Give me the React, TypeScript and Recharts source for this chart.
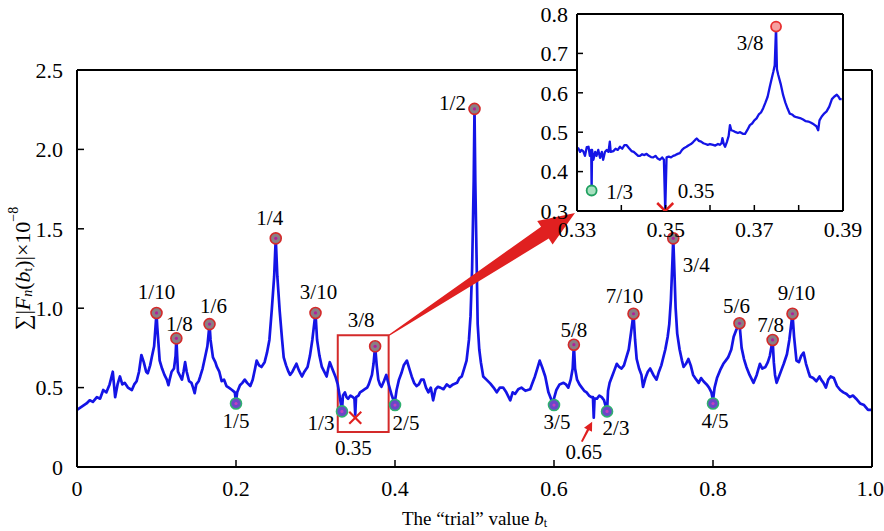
import React from "react";
import {
  ComposedChart,
  Line,
  Scatter,
  XAxis,
  YAxis,
  ReferenceArea,
  ReferenceLine,
  Label,
  CartesianGrid,
} from "recharts";

const FONT = '"Liberation Serif", "Times New Roman", serif';
const BLUE = "#1414e6";
const RED = "#e02020";

// ---------- main curve ----------
const mainX = [
  0.0, 0.006, 0.012, 0.016, 0.02, 0.025, 0.029, 0.033, 0.037, 0.041, 0.045, 0.048, 0.051, 0.054, 0.057, 0.06,
  0.064, 0.069, 0.072, 0.075, 0.078, 0.081, 0.084, 0.087, 0.089, 0.092, 0.094, 0.097, 0.099, 0.1, 0.101, 0.104,
  0.107, 0.11, 0.113, 0.115, 0.117, 0.119, 0.122, 0.124, 0.125, 0.126, 0.127, 0.13, 0.132, 0.134, 0.136, 0.138,
  0.141, 0.144, 0.146, 0.148, 0.15, 0.153, 0.155, 0.158, 0.161, 0.164, 0.1667, 0.168, 0.171, 0.174, 0.176, 0.179,
  0.182, 0.185, 0.188, 0.191, 0.195, 0.1985, 0.2, 0.2015, 0.205, 0.208, 0.211, 0.214, 0.218, 0.221, 0.224, 0.226,
  0.229, 0.232, 0.236, 0.239, 0.242, 0.245, 0.248, 0.25, 0.252, 0.255, 0.258, 0.26, 0.263, 0.266, 0.268, 0.271,
  0.274, 0.276, 0.279, 0.281, 0.283, 0.286, 0.29, 0.293, 0.296, 0.3, 0.302, 0.305, 0.308, 0.311, 0.314, 0.316,
  0.318, 0.321, 0.325, 0.328, 0.33, 0.3333, 0.3345, 0.337, 0.339, 0.341, 0.344, 0.347, 0.349, 0.35, 0.351, 0.354,
  0.356, 0.359, 0.362, 0.365, 0.367, 0.369, 0.371, 0.373, 0.375, 0.377, 0.379, 0.381, 0.383, 0.386, 0.389, 0.391,
  0.394, 0.396, 0.3995, 0.402, 0.405, 0.408, 0.411, 0.415, 0.418, 0.421, 0.424, 0.427, 0.43, 0.433, 0.436, 0.439,
  0.442, 0.445, 0.448, 0.451, 0.454, 0.457, 0.461, 0.465, 0.469, 0.473, 0.478, 0.481, 0.484, 0.487, 0.49, 0.493,
  0.495, 0.497, 0.499, 0.5, 0.501, 0.503, 0.504, 0.506, 0.508, 0.511, 0.515, 0.52, 0.524, 0.528, 0.532, 0.536,
  0.54, 0.545, 0.548, 0.551, 0.555, 0.559, 0.564, 0.57, 0.573, 0.576, 0.579, 0.582, 0.585, 0.589, 0.593, 0.5985,
  0.601, 0.603, 0.607, 0.612, 0.615, 0.618, 0.621, 0.6235, 0.625, 0.6265, 0.629, 0.632, 0.635, 0.638, 0.641, 0.644,
  0.647, 0.649, 0.65, 0.651, 0.654, 0.657, 0.66, 0.663, 0.6667, 0.668, 0.67, 0.673, 0.676, 0.679, 0.682, 0.685,
  0.688, 0.691, 0.694, 0.697, 0.7, 0.702, 0.704, 0.707, 0.71, 0.712, 0.715, 0.718, 0.721, 0.725, 0.729, 0.732,
  0.735, 0.737, 0.74, 0.743, 0.745, 0.747, 0.749, 0.75, 0.751, 0.753, 0.755, 0.758, 0.761, 0.763, 0.766, 0.769,
  0.772, 0.775, 0.779, 0.782, 0.785, 0.788, 0.792, 0.795, 0.798, 0.8, 0.802, 0.805, 0.809, 0.813, 0.816, 0.819,
  0.823, 0.826, 0.829, 0.8333, 0.836, 0.839, 0.842, 0.846, 0.851, 0.855, 0.859, 0.862, 0.866, 0.869, 0.8715, 0.875,
  0.8765, 0.878, 0.88, 0.883, 0.886, 0.889, 0.893, 0.896, 0.9, 0.902, 0.905, 0.908, 0.911, 0.914, 0.917, 0.92,
  0.922, 0.926, 0.93, 0.934, 0.936, 0.939, 0.942, 0.945, 0.948, 0.952, 0.956, 0.96, 0.964, 0.968, 0.972, 0.976,
  0.98, 0.985, 0.99, 0.995, 1.0,
];
const mainY = [
  0.36, 0.38, 0.4, 0.42, 0.41, 0.44, 0.43, 0.485, 0.47, 0.52, 0.6, 0.44, 0.52, 0.57, 0.52, 0.53,
  0.5, 0.485, 0.52, 0.54, 0.6, 0.705, 0.66, 0.6, 0.59, 0.64, 0.69, 0.76, 0.9, 0.97, 0.88, 0.67,
  0.62, 0.58, 0.55, 0.515, 0.56, 0.6, 0.62, 0.7, 0.81, 0.7, 0.6, 0.57, 0.55, 0.6, 0.66, 0.6,
  0.54, 0.53, 0.5, 0.465, 0.52, 0.54, 0.57, 0.62, 0.69, 0.76, 0.9, 0.8, 0.69, 0.66, 0.63, 0.6,
  0.54, 0.55, 0.51, 0.5, 0.485, 0.47, 0.41, 0.47, 0.515, 0.53, 0.55, 0.53, 0.51, 0.55, 0.62, 0.67,
  0.64, 0.63, 0.66, 0.72, 0.8, 0.99, 1.2, 1.44, 1.2, 0.98, 0.8, 0.69, 0.64, 0.6, 0.58, 0.6,
  0.63, 0.65, 0.61, 0.59, 0.57, 0.6, 0.63, 0.7, 0.8, 0.97, 0.8, 0.7, 0.63, 0.6, 0.57, 0.62,
  0.66, 0.62, 0.57, 0.52, 0.46, 0.35, 0.45, 0.47, 0.44, 0.43, 0.45, 0.44, 0.43, 0.33, 0.44, 0.45,
  0.47, 0.48, 0.49, 0.5, 0.52, 0.55, 0.58, 0.65, 0.76, 0.64, 0.55, 0.52, 0.505, 0.54, 0.58, 0.54,
  0.485, 0.45, 0.4, 0.485, 0.55, 0.59, 0.64, 0.67, 0.62, 0.57, 0.53, 0.51, 0.52, 0.55, 0.55, 0.5,
  0.47, 0.5, 0.42, 0.49, 0.505, 0.5, 0.49, 0.52, 0.505, 0.52, 0.53, 0.56, 0.57, 0.62, 0.67, 0.8,
  0.95, 1.25, 1.8, 2.255, 1.8, 1.2, 0.9, 0.74, 0.66, 0.57, 0.55, 0.525, 0.5, 0.47, 0.5, 0.5,
  0.47, 0.42, 0.47, 0.46, 0.49, 0.5, 0.48, 0.49, 0.53, 0.57, 0.62, 0.67, 0.63, 0.57, 0.47, 0.4,
  0.45, 0.485, 0.52, 0.53, 0.52, 0.5, 0.55, 0.62, 0.77, 0.62, 0.55, 0.52, 0.5, 0.48, 0.47, 0.45,
  0.44, 0.44, 0.31, 0.43, 0.43, 0.45, 0.44, 0.42, 0.35, 0.48, 0.53, 0.57, 0.61, 0.65, 0.63, 0.62,
  0.64, 0.69, 0.74, 0.85, 0.965, 0.8, 0.68, 0.62, 0.58, 0.505, 0.56, 0.6, 0.62, 0.58, 0.55, 0.6,
  0.64, 0.68, 0.74, 0.82, 0.9, 1.05, 1.3, 1.44, 1.3, 1.0, 0.84, 0.74, 0.67, 0.63, 0.65, 0.68,
  0.64, 0.58, 0.55, 0.53, 0.56, 0.54, 0.52, 0.5, 0.47, 0.42, 0.5, 0.56, 0.61, 0.65, 0.67, 0.69,
  0.74, 0.82, 0.86, 0.905, 0.75, 0.68, 0.63, 0.58, 0.53, 0.58, 0.65, 0.62, 0.63, 0.66, 0.7, 0.8,
  0.66, 0.58, 0.53, 0.57, 0.61, 0.65, 0.71, 0.8, 0.965, 0.82, 0.67, 0.66, 0.7, 0.72, 0.65, 0.6,
  0.57, 0.56, 0.54, 0.57, 0.55, 0.53, 0.5, 0.55, 0.57, 0.56, 0.51, 0.485, 0.47, 0.46, 0.44, 0.45,
  0.43, 0.4, 0.39, 0.36, 0.36,
];

// ---------- marked points ----------
const peakNames = ["1/10", "1/8", "1/6", "1/4", "3/10", "3/8", "1/2", "5/8", "7/10", "3/4", "5/6", "7/8", "9/10"];
const peakX = [0.1, 0.125, 0.1667, 0.25, 0.3, 0.375, 0.5, 0.625, 0.7, 0.75, 0.8333, 0.875, 0.9];
const peakY = [0.97, 0.81, 0.9, 1.44, 0.97, 0.76, 2.255, 0.77, 0.965, 1.44, 0.905, 0.8, 0.965];

const dipNames = ["1/5", "1/3", "2/5", "3/5", "2/3", "4/5"];
const dipX = [0.2, 0.3333, 0.4, 0.6, 0.6667, 0.8];
const dipY = [0.4, 0.35, 0.39, 0.39, 0.35, 0.4];

const crossNames = ["0.35"];
const crossX = [0.35];
const crossY = [0.31];

const arrowNote = "0.65";
const arrowNoteX = 0.65;
const arrowNoteY = 0.31;

// zoom box (data coords) and arrow ends
const zoomBoxX = [0.328, 0.392];
const zoomBoxY = [0.22, 0.83];
const bigArrow = [{ x: 0.3925, y: 0.83 }, { x: 0.6264, y: 1.6 }];
const smallArrow = [{ x: 0.635, y: 0.16 }, { x: 0.648, y: 0.285 }];

const mainXTicks = [0, 0.2, 0.4, 0.6, 0.8, 1.0];
const mainYTicks = [0, 0.5, 1.0, 1.5, 2.0, 2.5];

// ---------- inset curve ----------
const insetX = [
  0.33, 0.3303, 0.3307, 0.331, 0.3314, 0.3318, 0.3322, 0.3326, 0.3329, 0.3332, 0.3333, 0.3334, 0.3337, 0.3341,
  0.3344, 0.3348, 0.3352, 0.3356, 0.3359, 0.3363, 0.3367, 0.3371, 0.3374, 0.3376, 0.3382, 0.3387, 0.3392, 0.3397,
  0.3402, 0.3407, 0.3412, 0.3417, 0.3423, 0.3428, 0.3433, 0.3438, 0.3442, 0.3447, 0.3452, 0.3457, 0.3462, 0.3467,
  0.3472, 0.3477, 0.3482, 0.3487, 0.3492, 0.3496, 0.3499, 0.3502, 0.3507, 0.3512, 0.3517, 0.3522, 0.3527, 0.3532,
  0.3537, 0.3542, 0.3547, 0.3552, 0.3557, 0.3562, 0.3567, 0.357, 0.3575, 0.358, 0.3585, 0.359, 0.3595, 0.36,
  0.3607, 0.3612, 0.3618, 0.3622, 0.3626, 0.3628, 0.3631, 0.3634, 0.3638, 0.3642, 0.3645, 0.3648, 0.3653, 0.3658,
  0.3663, 0.3668, 0.3674, 0.3679, 0.3684, 0.369, 0.3695, 0.37, 0.3705, 0.371, 0.3715, 0.372, 0.3725, 0.373,
  0.3735, 0.374, 0.3743, 0.3746, 0.3749, 0.3751, 0.3754, 0.376, 0.3765, 0.377, 0.3775, 0.378, 0.3785, 0.379,
  0.3795, 0.3803, 0.381, 0.3816, 0.3822, 0.3828, 0.3834, 0.384, 0.3844, 0.3847, 0.3852, 0.3858, 0.3863, 0.3869,
  0.3875, 0.388, 0.3886, 0.389, 0.3893, 0.3897,
];
const insetY = [
  0.46, 0.459, 0.45, 0.455, 0.452, 0.44, 0.462, 0.463, 0.44, 0.455, 0.352, 0.455, 0.43, 0.45,
  0.44, 0.455, 0.435, 0.45, 0.43, 0.45, 0.455, 0.45, 0.476, 0.45, 0.452, 0.458, 0.455, 0.463,
  0.458, 0.467, 0.467, 0.46, 0.452, 0.45, 0.445, 0.44, 0.44, 0.444, 0.442, 0.445, 0.44, 0.437,
  0.436, 0.44, 0.433, 0.43, 0.436, 0.43, 0.3, 0.436, 0.438, 0.436, 0.44, 0.442, 0.445, 0.447,
  0.455, 0.46, 0.463, 0.467, 0.47, 0.475, 0.481, 0.484, 0.478, 0.476, 0.472, 0.47, 0.468, 0.47,
  0.468, 0.466, 0.47, 0.468, 0.472, 0.485, 0.47, 0.463, 0.475, 0.49, 0.518, 0.505, 0.503, 0.5,
  0.498, 0.5, 0.496, 0.496, 0.505, 0.518, 0.522, 0.53, 0.535, 0.545, 0.55, 0.561, 0.575, 0.59,
  0.616, 0.64, 0.654, 0.67, 0.768, 0.66, 0.645, 0.62, 0.594, 0.575, 0.56, 0.547, 0.545, 0.54,
  0.538, 0.536, 0.532, 0.528, 0.527, 0.524, 0.52, 0.515, 0.505, 0.53, 0.54, 0.548, 0.553, 0.565,
  0.584, 0.59, 0.595, 0.59, 0.584, 0.584,
];
const insetPeakName = "3/8";
const insetPeakX = 0.3749;
const insetPeakY = 0.768;
const insetDipName = "1/3";
const insetDipX = 0.3333;
const insetDipY = 0.352;
const insetCrossName = "0.35";
const insetCrossX = 0.3499;
const insetCrossY = 0.3;

const insetXTicks = [0.33, 0.34, 0.35, 0.36, 0.37, 0.38, 0.39];
const insetXLabels = ["0.33", "", "0.35", "", "0.37", "", "0.39"];
const insetYTicks = [0.3, 0.4, 0.5, 0.6, 0.7, 0.8];

// ---------- styling: label offsets (px) relative to marker ----------
const labelOffset: Record<string, [number, number]> = {
  "1/10": [0, -21],
  "1/8": [3, -14],
  "1/6": [4, -18],
  "1/4": [-6, -20],
  "3/10": [3, -21],
  "3/8": [-14, -26],
  "1/2": [-22, -6],
  "5/8": [0, -15],
  "7/10": [-9, -18],
  "3/4": [23, 27],
  "5/6": [-3, -17],
  "7/8": [-2, -15],
  "9/10": [4, -21],
  "1/5": [0, 18],
  "1/3": [-21, 12],
  "2/5": [11, 18],
  "3/5": [3, 17],
  "2/3": [9, 17],
  "4/5": [2, 18],
  "0.35": [-2, 30],
  "0.65": [-10, 34],
};
const insetLabelOffset: Record<string, [number, number]> = {
  "3/8": [-26, 16],
  "1/3": [28, 1],
  "0.35": [31, -20],
};

const mainLineData = mainX.map((x, i) => ({ x, y: mainY[i] }));
const peakData = peakNames.map((name, i) => ({ name, x: peakX[i], y: peakY[i] }));
const dipData = dipNames.map((name, i) => ({ name, x: dipX[i], y: dipY[i] }));
const crossData = crossNames.map((name, i) => ({ name, x: crossX[i], y: crossY[i] }));
const noteData = [{ name: arrowNote, x: arrowNoteX, y: arrowNoteY }];
const insetLineData = insetX.map((x, i) => ({ x, y: insetY[i] }));

const LBL_SIZE = 21;

const Txt = ({ x, y, children }: any) => (
  <text x={x} y={y} textAnchor="middle" dominantBaseline="central" fontFamily={FONT} fontSize={LBL_SIZE} fill="#000">
    {children}
  </text>
);

const PeakDot = (props: any) => {
  const { cx, cy, payload } = props;
  const [dx, dy] = labelOffset[payload.name] || [0, -20];
  return (
    <g>
      <circle cx={cx} cy={cy} r={5.5} fill="#8a7e84" stroke="#d42a2a" strokeWidth={1.6} />
      <circle cx={cx} cy={cy} r={1.6} fill="#b0209a" />
      <Txt x={cx + dx} y={cy + dy}>{payload.name}</Txt>
    </g>
  );
};

const DipDot = (props: any) => {
  const { cx, cy, payload } = props;
  const [dx, dy] = labelOffset[payload.name] || [0, 18];
  return (
    <g>
      <circle cx={cx} cy={cy} r={5.5} fill="#6a48c8" stroke="#2fb070" strokeWidth={1.6} />
      <circle cx={cx} cy={cy} r={1.6} fill="#c040c0" />
      <Txt x={cx + dx} y={cy + dy}>{payload.name}</Txt>
    </g>
  );
};

const CrossDot = (props: any) => {
  const { cx, cy, payload } = props;
  const [dx, dy] = labelOffset[payload.name] || [0, 20];
  const s = 6;
  return (
    <g>
      <line x1={cx - s} y1={cy - s} x2={cx + s} y2={cy + s} stroke={RED} strokeWidth={2.2} />
      <line x1={cx - s} y1={cy + s} x2={cx + s} y2={cy - s} stroke={RED} strokeWidth={2.2} />
      <Txt x={cx + dx} y={cy + dy}>{payload.name}</Txt>
    </g>
  );
};

const NoteDot = (props: any) => {
  const { cx, cy, payload } = props;
  const [dx, dy] = labelOffset[payload.name] || [0, 20];
  return <Txt x={cx + dx} y={cy + dy}>{payload.name}</Txt>;
};

const arrowPolygon = (x1: number, y1: number, x2: number, y2: number, tailW: number, shaftW: number, headW: number, headL: number) => {
  const dx = x2 - x1;
  const dy = y2 - y1;
  const L = Math.sqrt(dx * dx + dy * dy) || 1;
  const ux = dx / L;
  const uy = dy / L;
  const nx = -uy;
  const ny = ux;
  const bx = x2 - ux * headL;
  const by = y2 - uy * headL;
  const pts = [
    [x1 + nx * tailW, y1 + ny * tailW],
    [bx + nx * shaftW, by + ny * shaftW],
    [bx + nx * headW, by + ny * headW],
    [x2, y2],
    [bx - nx * headW, by - ny * headW],
    [bx - nx * shaftW, by - ny * shaftW],
    [x1 - nx * tailW, y1 - ny * tailW],
  ];
  return pts.map((p) => p.join(",")).join(" ");
};

const BigArrow = (props: any) => {
  const { x1, y1, x2, y2 } = props;
  if ([x1, y1, x2, y2].some((v) => typeof v !== "number" || isNaN(v))) return null;
  return <polygon points={arrowPolygon(x1, y1, x2, y2, 0.6, 7, 14, 36)} fill={RED} />;
};

const SmallArrow = (props: any) => {
  const { x1, y1, x2, y2 } = props;
  if ([x1, y1, x2, y2].some((v) => typeof v !== "number" || isNaN(v))) return null;
  return <polygon points={arrowPolygon(x1, y1, x2, y2, 1, 1.2, 4.5, 9)} fill={RED} />;
};

const InsetMarker = (kind: "peak" | "dip" | "cross") => (props: any) => {
  const { cx, cy, payload } = props;
  const [dx, dy] = insetLabelOffset[payload.name] || [0, 0];
  let mark;
  if (kind === "peak") mark = <circle cx={cx} cy={cy} r={5} fill="#f5a0a0" stroke="#e83030" strokeWidth={1.8} />;
  else if (kind === "dip") mark = <circle cx={cx} cy={cy} r={5} fill="#a8e0c0" stroke="#20a060" strokeWidth={1.8} />;
  else
    mark = (
      <g>
        <line x1={cx - 8} y1={cy - 8} x2={cx + 8} y2={cy + 8} stroke={RED} strokeWidth={2.5} />
        <line x1={cx - 8} y1={cy + 8} x2={cx + 8} y2={cy - 8} stroke={RED} strokeWidth={2.5} />
      </g>
    );
  return (
    <g>
      {mark}
      <Txt x={cx + dx} y={cy + dy}>{payload.name}</Txt>
    </g>
  );
};

const yLabelContent = (props: any) => {
  const vb = props.viewBox || { x: 0, y: 70, width: 77, height: 397 };
  const cx = vb.x + 22;
  const cy = vb.y + vb.height / 2;
  return (
    <text
      x={cx}
      y={cy}
      transform={`rotate(-90, ${cx}, ${cy})`}
      textAnchor="middle"
      dominantBaseline="central"
      fontFamily={FONT}
      fontSize={22}
      fill="#000"
    >
      <tspan>∑|</tspan>
      <tspan fontStyle="italic">F</tspan>
      <tspan fontStyle="italic" fontSize={14} dy={5}>n</tspan>
      <tspan dy={-5}>(</tspan>
      <tspan fontStyle="italic">b</tspan>
      <tspan fontSize={13} dy={5}>t</tspan>
      <tspan dy={-5}>)|×10</tspan>
      <tspan fontSize={14} dy={-9}>−8</tspan>
    </text>
  );
};

const xLabelContent = (props: any) => {
  const vb = props.viewBox || { x: 77, y: 467, width: 795, height: 64 };
  const cx = vb.x + vb.width / 2;
  const cy = vb.y + 51;
  return (
    <text x={cx} y={cy} textAnchor="middle" dominantBaseline="central" fontFamily={FONT} fontSize={19} fill="#000">
      <tspan>The “trial” value </tspan>
      <tspan fontStyle="italic">b</tspan>
      <tspan fontSize={12} dy={5}>t</tspan>
    </text>
  );
};

const tickStyle = { fontSize: 22, fill: "#000", fontFamily: FONT };
const axisLine = { stroke: "#000", strokeWidth: 2 };
const tickLine = { stroke: "#000", strokeWidth: 1.5 };

const fmtMain = (v: number) => (v === 0 ? "0" : v.toFixed(1));
const blank = () => "";

export default function App() {
  return (
    <div style={{ position: "absolute", left: 0, top: 0, width: 884, height: 531, background: "#fff" }}>
      <div style={{ position: "absolute", left: 0, top: 0 }}>
        <ComposedChart width={884} height={531} margin={{ top: 40, right: 0, bottom: 0, left: 0 }}>
          <XAxis
            xAxisId={0}
            type="number"
            dataKey="x"
            domain={[0, 1]}
            ticks={mainXTicks}
            tickFormatter={fmtMain}
            height={64}
            tickSize={-7}
            tickMargin={20}
            tick={tickStyle}
            axisLine={axisLine}
            tickLine={tickLine}
            allowDataOverflow
          >
            <Label content={xLabelContent} />
          </XAxis>
          <XAxis
            xAxisId="top"
            orientation="top"
            type="number"
            domain={[0, 1]}
            ticks={mainXTicks}
            tickFormatter={blank}
            height={30}
            tickSize={-7}
            axisLine={axisLine}
            tickLine={tickLine}
          />
          <YAxis
            yAxisId={0}
            type="number"
            domain={[0, 2.5]}
            ticks={mainYTicks}
            tickFormatter={fmtMain}
            width={77}
            tickSize={-7}
            tickMargin={21}
            tick={tickStyle}
            axisLine={axisLine}
            tickLine={tickLine}
            allowDataOverflow
          >
            <Label content={yLabelContent} />
          </YAxis>
          <YAxis
            yAxisId="right"
            orientation="right"
            type="number"
            domain={[0, 2.5]}
            ticks={mainYTicks}
            tickFormatter={blank}
            width={12}
            tickSize={-7}
            axisLine={axisLine}
            tickLine={tickLine}
          />
          <Line
            data={mainLineData}
            dataKey="y"
            type="linear"
            stroke={BLUE}
            strokeWidth={2.7}
            strokeLinejoin="round"
            dot={false}
            isAnimationActive={false}
          />
          <ReferenceArea
            x1={zoomBoxX[0]}
            x2={zoomBoxX[1]}
            y1={zoomBoxY[0]}
            y2={zoomBoxY[1]}
            stroke="#d42a2a"
            strokeWidth={2}
            fill="none"
            fillOpacity={0}
            ifOverflow="visible"
          />
          <ReferenceLine segment={bigArrow} ifOverflow="visible" shape={BigArrow} />
          <ReferenceLine segment={smallArrow} ifOverflow="visible" shape={SmallArrow} />
          <Scatter data={peakData} dataKey="y" shape={PeakDot} isAnimationActive={false} />
          <Scatter data={dipData} dataKey="y" shape={DipDot} isAnimationActive={false} />
          <Scatter data={crossData} dataKey="y" shape={CrossDot} isAnimationActive={false} />
          <Scatter data={noteData} dataKey="y" shape={NoteDot} isAnimationActive={false} />
        </ComposedChart>
      </div>
      <div style={{ position: "absolute", left: 520, top: 0 }}>
        <ComposedChart width={364} height={252} margin={{ top: 0, right: 0, bottom: 0, left: 0 }}>
          <CartesianGrid horizontal={false} vertical={false} fill="#fff" fillOpacity={1} />
          <XAxis
            xAxisId={0}
            type="number"
            dataKey="x"
            domain={[0.33, 0.39]}
            ticks={insetXTicks}
            tickFormatter={(v: number) => insetXLabels[insetXTicks.findIndex((t) => Math.abs(t - v) < 1e-6)] || ""}
            height={41}
            tickSize={-6}
            tickMargin={16}
            tick={tickStyle}
            axisLine={axisLine}
            tickLine={tickLine}
            allowDataOverflow
            interval={0}
          />
          <XAxis
            xAxisId="top"
            orientation="top"
            type="number"
            domain={[0.33, 0.39]}
            ticks={insetXTicks}
            tickFormatter={blank}
            height={14}
            tickSize={-6}
            axisLine={axisLine}
            tickLine={tickLine}
            interval={0}
          />
          <YAxis
            yAxisId={0}
            type="number"
            domain={[0.3, 0.8]}
            ticks={insetYTicks}
            tickFormatter={(v: number) => v.toFixed(1)}
            width={57}
            tickSize={-6}
            tickMargin={15}
            tick={tickStyle}
            axisLine={axisLine}
            tickLine={tickLine}
            allowDataOverflow
            interval={0}
          />
          <YAxis
            yAxisId="right"
            orientation="right"
            type="number"
            domain={[0.3, 0.8]}
            ticks={insetYTicks}
            tickFormatter={blank}
            width={41}
            tickSize={-6}
            axisLine={axisLine}
            tickLine={tickLine}
            interval={0}
          />
          <Line
            data={insetLineData}
            dataKey="y"
            type="linear"
            stroke={BLUE}
            strokeWidth={2.3}
            strokeLinejoin="round"
            dot={false}
            isAnimationActive={false}
          />
          <Scatter
            data={[{ name: insetPeakName, x: insetPeakX, y: insetPeakY }]}
            dataKey="y"
            shape={InsetMarker("peak")}
            isAnimationActive={false}
          />
          <Scatter
            data={[{ name: insetDipName, x: insetDipX, y: insetDipY }]}
            dataKey="y"
            shape={InsetMarker("dip")}
            isAnimationActive={false}
          />
          <Scatter
            data={[{ name: insetCrossName, x: insetCrossX, y: insetCrossY }]}
            dataKey="y"
            shape={InsetMarker("cross")}
            isAnimationActive={false}
          />
        </ComposedChart>
      </div>
    </div>
  );
}
